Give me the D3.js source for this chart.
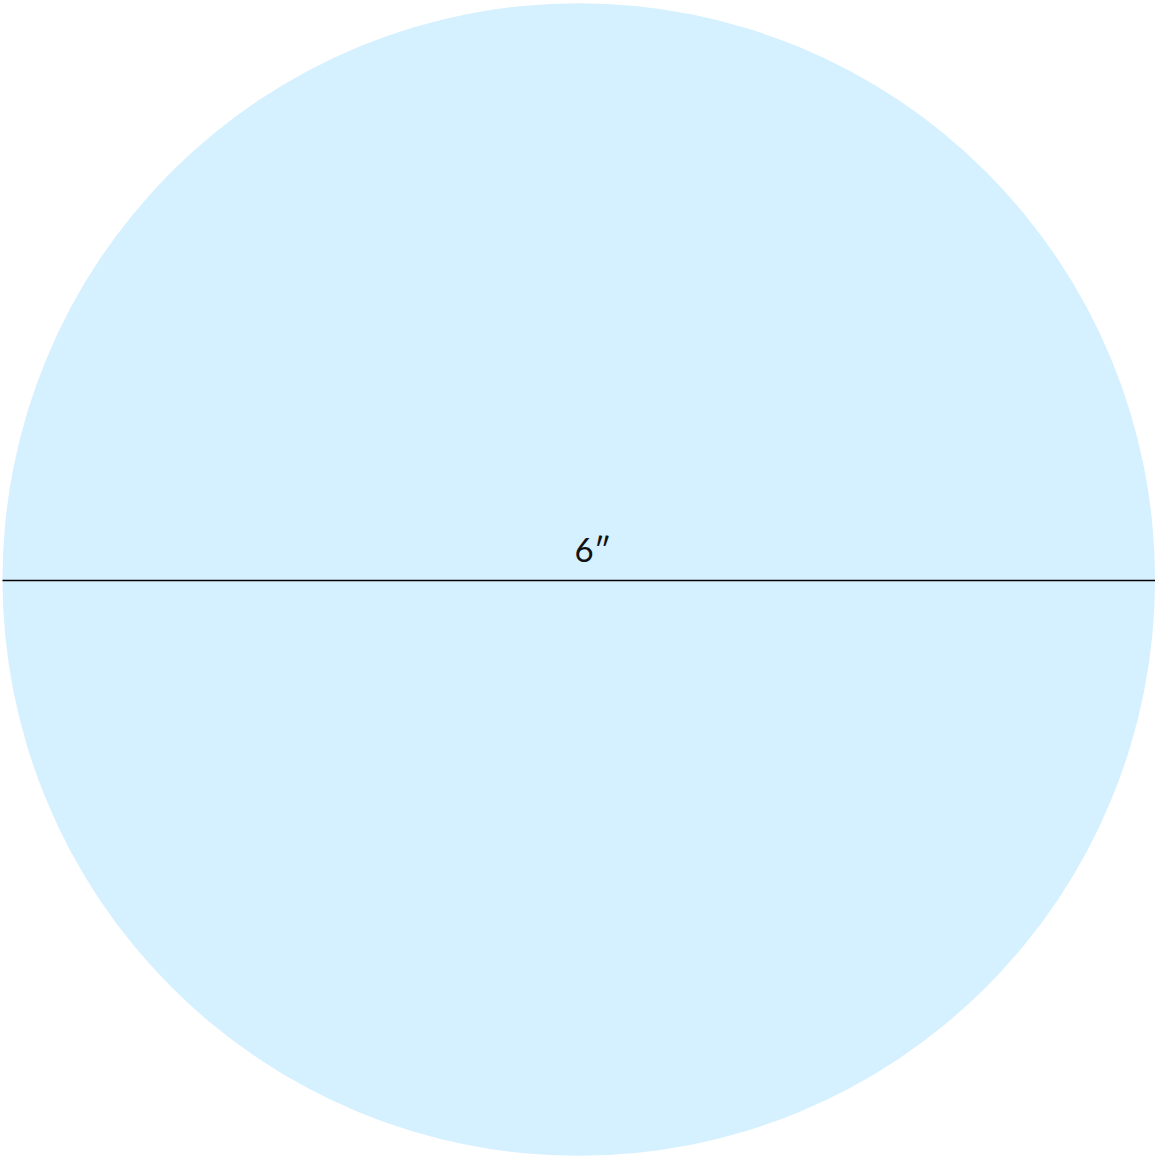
<!DOCTYPE html>
<html><head><meta charset="utf-8">
<script src="https://cdn.jsdelivr.net/npm/d3@7"></script>
<style>html,body{margin:0;padding:0;background:#fff;}svg{display:block;}</style>
</head><body>
<script>
const diameters = [6];
const labels = ["6″"];
const W = 1155, H = 1158;
const svg = d3.select("body").append("svg").attr("width", W).attr("height", H);
const x = d3.scaleLinear().domain([0, 6]).range([2.5, 1155]);
const cy = 579.5;
const r = d => (x(d) - x(0)) / 2;
const g = svg.append("g");
g.selectAll("circle").data(diameters).join("circle")
  .attr("cx", d => x(0) + r(d)).attr("cy", cy).attr("r", r)
  .attr("fill", "#d5f0fe");
g.selectAll("line").data(diameters).join("line")
  .attr("x1", x(0)).attr("x2", d => x(d)).attr("y1", 580.5).attr("y2", 580.5)
  .attr("stroke", "#000").attr("stroke-width", 1.3);
g.selectAll("text").data(diameters).join("text")
  .attr("x", d => x(0) + r(d) + 14).attr("y", 562)
  .attr("text-anchor", "middle")
  .attr("font-family", "Lato, 'Open Sans', sans-serif")
  .attr("font-size", 33).attr("fill", "#111")
  .text((d, i) => labels[i]);
</script>
</body></html>
